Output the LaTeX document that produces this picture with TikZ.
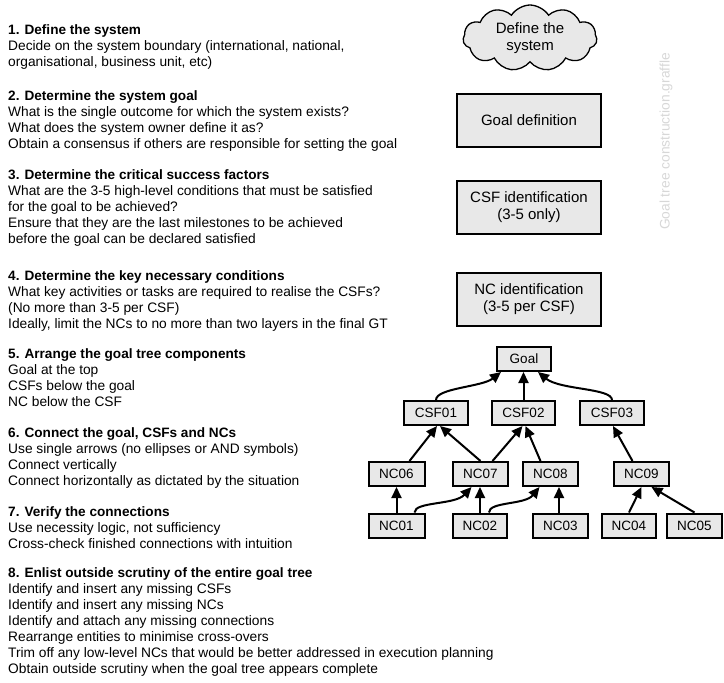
\documentclass[tikz,border=0pt]{standalone}
\usepackage{fontspec}
\setmainfont{Liberation Sans}
\usetikzlibrary{shapes.symbols,arrows.meta}
\definecolor{boxgray}{RGB}{232,232,232}
\definecolor{wmgray}{RGB}{215,215,215}
\begin{document}
\begin{tikzpicture}[x=1pt,y=-1pt,
  body/.style={anchor=base west,inner sep=0pt,font=\fontsize{13.75}{16}\selectfont},
  head/.style={body,font=\fontsize{13.6}{16}\selectfont\bfseries},
  bigbox/.style={draw,fill=boxgray,line width=2pt,minimum width=144pt,minimum height=53pt,inner sep=0pt,align=center,font=\fontsize{15}{17.5}\selectfont},
  tbox/.style={draw,fill=boxgray,line width=2pt,minimum height=24pt,inner sep=0pt,font=\fontsize{13.5}{15}\selectfont},
  arr/.style={line width=2pt,-{Triangle[length=11pt,width=10pt]}}]
\useasboundingbox (0,0) rectangle (724,683);

% ---------- left column text ----------
\node[head] (h1) at (8,34) {1. Define the system};
\foreach \t [count=\i from 0] in {{Decide on the system boundary (international, national,},{organisational, business unit, etc)}}
  \node[body] (s1l\i) at (8,50+16*\i) {\t};

\node[head] (h2) at (8,100) {2. Determine the system goal};
\foreach \t [count=\i from 0] in {{What is the single outcome for which the system exists?},{What does the system owner define it as?},{Obtain a consensus if others are responsible for setting the goal}}
  \node[body] (s2l\i) at (8,116+16*\i) {\t};

\node[head] (h3) at (8,179) {3. Determine the critical success factors};
\foreach \t [count=\i from 0] in {{What are the 3-5 high-level conditions that must be satisfied},{for the goal to be achieved?},{Ensure that they are the last milestones to be achieved},{before the goal can be declared satisfied}}
  \node[body] (s3l\i) at (8,195+16*\i) {\t};

\node[head] (h4) at (8,280) {4. Determine the key necessary conditions};
\foreach \t [count=\i from 0] in {{What key activities or tasks are required to realise the CSFs?},{(No more than 3-5 per CSF)},{Ideally, limit the NCs to no more than two layers in the final GT}}
  \node[body] (s4l\i) at (8,296+16*\i) {\t};

\node[head] (h5) at (8,358) {5. Arrange the goal tree components};
\foreach \t [count=\i from 0] in {{Goal at the top},{CSFs below the goal},{NC below the CSF}}
  \node[body] (s5l\i) at (8,374+16*\i) {\t};

\node[head] (h6) at (8,437) {6. Connect the goal, CSFs and NCs};
\foreach \t [count=\i from 0] in {{Use single arrows (no ellipses or AND symbols)},{Connect vertically},{Connect horizontally as dictated by the situation}}
  \node[body] (s6l\i) at (8,453+16*\i) {\t};

\node[head] (h7) at (8,516) {7. Verify the connections};
\foreach \t [count=\i from 0] in {{Use necessity logic, not sufficiency},{Cross-check finished connections with intuition}}
  \node[body] (s7l\i) at (8,532+16*\i) {\t};

\node[head] (h8) at (8,577) {8. Enlist outside scrutiny of the entire goal tree};
\foreach \t [count=\i from 0] in {{Identify and insert any missing CSFs},{Identify and insert any missing NCs},{Identify and attach any missing connections},{Rearrange entities to minimise cross-overs},{Trim off any low-level NCs that would be better addressed in execution planning},{Obtain outside scrutiny when the goal tree appears complete}}
  \node[body] (s8l\i) at (8,593+16*\i) {\t};

% ---------- right column ----------
\node[cloud,draw,fill=boxgray,line width=1.3pt,cloud puffs=11,cloud puff arc=115,aspect=2.0,
  minimum width=134pt,minimum height=66pt,inner sep=0pt,align=center,
  font=\fontsize{15}{17.5}\selectfont] (cloud) at (530,38) {Define the\\system};
\node[bigbox] (gdef) at (529,120) {Goal definition};
\node[bigbox] (csfid) at (529,207) {CSF identification\\(3-5 only)};
\node[bigbox] (ncid) at (529,299) {NC identification\\(3-5 per CSF)};
\node[rotate=90,text=wmgray,inner sep=0pt,font=\fontsize{13.8}{15}\selectfont] (wm) at (666,141.5) {Goal tree construction.graffle};

% ---------- goal tree ----------
\node[tbox,minimum width=54pt] (goal) at (524,359) {Goal};
\node[tbox,minimum width=64pt] (csf01) at (436,413) {CSF01};
\node[tbox,minimum width=63pt] (csf02) at (523.5,413) {CSF02};
\node[tbox,minimum width=64pt] (csf03) at (612,413) {CSF03};
\node[tbox,minimum width=56pt] (nc06) at (396.5,474) {NC06};
\node[tbox,minimum width=55pt] (nc07) at (480.5,474) {NC07};
\node[tbox,minimum width=55pt] (nc08) at (550.5,474) {NC08};
\node[tbox,minimum width=55pt] (nc09) at (641.5,474) {NC09};
\node[tbox,minimum width=56pt] (nc01) at (396.5,525.5) {NC01};
\node[tbox,minimum width=54pt] (nc02) at (480,525.5) {NC02};
\node[tbox,minimum width=55pt] (nc03) at (560.5,525.5) {NC03};
\node[tbox,minimum width=54pt] (nc04) at (629,525.5) {NC04};
\node[tbox,minimum width=55pt] (nc05) at (694.5,525.5) {NC05};

% CSFs to goal
\draw[arr] (csf01.north) .. controls ([yshift=12pt]csf01.north) and ([xshift=-42pt,yshift=-15pt]goal.south) .. ([xshift=-23pt]goal.south);
\draw[arr] (csf02.north) -- (csf02.north |- goal.south);
\draw[arr] (csf03.north) .. controls ([yshift=12pt]csf03.north) and ([xshift=36pt,yshift=-18pt]goal.south) .. ([xshift=14pt]goal.south);
% NCs to CSFs
\draw[arr] ([xshift=13pt]nc06.north) -- ([xshift=1pt]csf01.south);
\draw[arr] (nc07.north) -- ([xshift=4pt]csf01.south);
\draw[arr] ([xshift=12pt]nc07.north) -- ([xshift=-1pt]csf02.south);
\draw[arr] ([xshift=-10pt]nc08.north) -- ([xshift=2pt]csf02.south);
\draw[arr] ([xshift=-9pt]nc09.north) -- ([xshift=1pt]csf03.south);
% lower NCs
\draw[arr] (nc01.north) -- (nc06.south);
\draw[arr] ([xshift=18pt]nc01.north) .. controls ([xshift=18pt,yshift=11pt]nc01.north) and ([xshift=-25.5pt,yshift=-18pt]nc07.south) .. ([xshift=-9pt]nc07.south);
\draw[arr] (nc02.north) -- (nc02.north |- nc07.south);
\draw[arr] ([xshift=9pt]nc02.north) .. controls ([xshift=9pt,yshift=11pt]nc02.north) and ([xshift=-25.5pt,yshift=-18pt]nc08.south) .. ([xshift=-11pt]nc08.south);
\draw[arr] ([xshift=-1.5pt]nc03.north) -- ([xshift=-1.5pt]nc03.north |- nc08.south);
\draw[arr] (nc04.north) -- ([xshift=0pt]nc09.south);
\draw[arr] (nc05.north) -- ([xshift=10pt]nc09.south);
\end{tikzpicture}
\end{document}
